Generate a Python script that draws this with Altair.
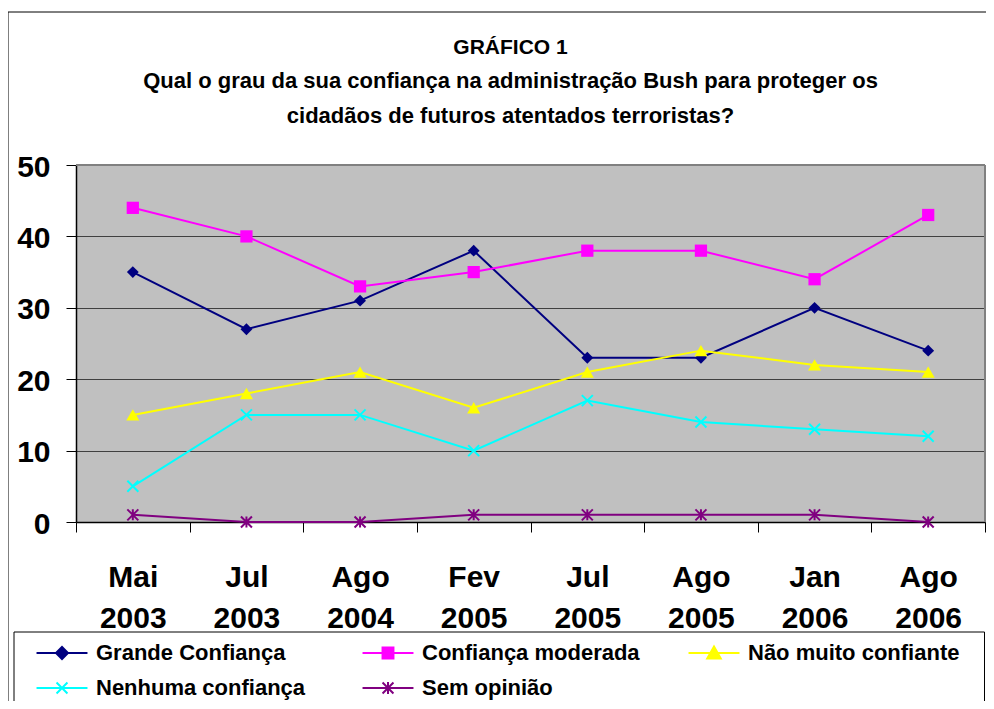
import altair as alt
import pandas as pd

# ---------------- data ----------------
categories = ["Mai 2003", "Jul 2003", "Ago 2004", "Fev 2005",
              "Jul 2005", "Ago 2005", "Jan 2006", "Ago 2006"]
series = ["Grande Confiança", "Confiança moderada", "Não muito confiante",
          "Nenhuma confiança", "Sem opinião"]
grande = [35, 27, 31, 38, 23, 23, 30, 24]
moderada = [44, 40, 33, 35, 38, 38, 34, 43]
nao_muito = [15, 18, 21, 16, 21, 24, 22, 21]
nenhuma = [5, 15, 15, 10, 17, 14, 13, 12]
sem_opiniao = [1, 0, 0, 1, 1, 1, 1, 0]
y_ticks = [0, 10, 20, 30, 40, 50]
title_text = "GRÁFICO 1"
subtitle_lines = ["Qual o grau da sua confiança na administração Bush para proteger os",
                  "cidadãos de futuros atentados terroristas?"]

# ---------------- styles ----------------
colors = ["#000080", "#FF00FF", "#FFFF00", "#00FFFF", "#800080"]
X_PATH = "M-1,-1L1,1M-1,1L1,-1"
STAR_PATH = "M-1,-1L1,1M-1,1L1,-1M0,-1L0,1"
point_shapes = ["diamond", "square", "triangle-up", X_PATH, STAR_PATH]
point_sizes = [140, 150, 170, 121, 121]
point_filled = [True, True, True, False, False]
legend_paths = [
    "M-1.96,0L1.96,0M-0.46,0L0,-0.46L0.46,0L0,0.46Z",
    "M-1.96,0L1.96,0M-0.42,-0.42L0.42,-0.42L0.42,0.42L-0.42,0.42Z",
    "M-1.96,0L1.96,0M0,-0.5L0.52,0.42L-0.52,0.42Z",
    "M-1.96,0L1.96,0M-0.42,-0.42L0.42,0.42M-0.42,0.42L0.42,-0.42",
    "M-1.96,0L1.96,0M-0.42,-0.42L0.42,0.42M-0.42,0.42L0.42,-0.42M0,-0.46L0,0.46",
]
FONT = "Liberation Sans"
W, H = 909, 357

values = [grande, moderada, nao_muito, nenhuma, sem_opiniao]
rows = []
for s, vals in zip(series, values):
    for c, v in zip(categories, vals):
        rows.append({"serie": s, "periodo": c, "valor": v})
df = pd.DataFrame(rows)

x_enc = alt.X(
    "periodo:N", sort=categories,
    scale=alt.Scale(type="band", domain=categories, paddingInner=0, paddingOuter=0),
    axis=alt.Axis(title=None, labelExpr="split(datum.label, ' ')", labelAngle=0,
                  labelFont=FONT, labelFontSize=30, labelFontWeight="bold",
                  labelColor="black", labelLineHeight=41, labelBaseline="top",
                  labelPadding=30, tickBand="extent", tickSize=10,
                  tickColor="black", domainColor="black", domainWidth=1.5,
                  grid=False),
)
y_enc = alt.Y(
    "valor:Q", scale=alt.Scale(domain=[0, 50], nice=False),
    axis=alt.Axis(title=None, values=y_ticks, labelFont=FONT, labelFontSize=30,
                  labelFontWeight="bold", labelColor="black", labelPadding=16,
                  labelOffset=2, tickSize=10, tickColor="black",
                  domainColor="black", domainWidth=1.5, grid=True,
                  gridColor="#404040", gridWidth=1),
)

base = alt.Chart(df)

frame = alt.Chart(alt.Data(values=[{}])).mark_rect(
    fillOpacity=0, stroke="black", strokeWidth=1
).encode(x=alt.value(-68), x2=alt.value(W + 30),
         y=alt.value(-153), y2=alt.value(H + 400))

legend_box = alt.Chart(alt.Data(values=[{}])).mark_rect(
    fillOpacity=0, stroke="black", strokeWidth=1
).encode(x=alt.value(-62), x2=alt.value(W - 0.5),
         y=alt.value(467), y2=alt.value(H + 400))

line_layers = []
point_layers = []
for s, col, shp, sz, fl in zip(series, colors, point_shapes, point_sizes, point_filled):
    sub = base.transform_filter(alt.datum.serie == s)
    line_layers.append(
        sub.mark_line(strokeWidth=2, color=col).encode(x=x_enc, y=y_enc)
    )
    point_layers.append(
        sub.mark_point(shape=shp, size=sz, filled=fl, strokeWidth=2,
                       opacity=1, color=col).encode(x=x_enc, y=y_enc)
    )

top_rule = alt.Chart(alt.Data(values=[{}])).mark_rule(
    color="#808080", strokeWidth=2
).encode(x=alt.value(0), x2=alt.value(W), y=alt.value(0))
right_rule = alt.Chart(alt.Data(values=[{}])).mark_rule(
    color="#808080", strokeWidth=2
).encode(x=alt.value(W), y=alt.value(0), y2=alt.value(H))

leg = alt.Legend(title=None, orient="none", legendX=-28, legendY=474,
                 direction="horizontal", columns=3, gridAlign="all",
                 columnPadding=44, rowPadding=10,
                 symbolSize=676, symbolStrokeWidth=2, symbolOpacity=1,
                 labelFont=FONT, labelFontSize=22, labelFontWeight="bold",
                 labelColor="black", labelOffset=20, labelLimit=400, padding=0)

# legend-only layer (no rows drawn): it just carries the legend
legend_layer = base.transform_filter("false").mark_point(
    filled=True, opacity=1, strokeWidth=2
).encode(
    x=x_enc, y=y_enc,
    fill=alt.Fill("serie:N", scale=alt.Scale(domain=series, range=colors), legend=leg),
    stroke=alt.Stroke("serie:N", scale=alt.Scale(domain=series, range=colors), legend=leg),
    shape=alt.Shape("serie:N", scale=alt.Scale(domain=series, range=legend_paths), legend=leg),
)

chart = alt.layer(
    frame, legend_box, *line_layers, *point_layers, top_rule, right_rule, legend_layer
).properties(
    width=W, height=H,
    padding={"left": 68, "top": 157, "right": 1, "bottom": 179},
    autosize=alt.AutoSizeParams(type="none"),
    title=alt.TitleParams(text=title_text, subtitle=subtitle_lines,
                          anchor="middle", frame="group", font=FONT,
                          fontSize=21, fontWeight="bold", color="black",
                          subtitleFont=FONT, subtitleFontSize=22,
                          subtitleFontWeight="bold", subtitleColor="black",
                          subtitleLineHeight=35, subtitlePadding=13,
                          dx=-20, dy=135, offset=20),
    background="white",
).configure_view(fill="#C0C0C0", stroke="transparent")

chart.save("out.html", embed_options={"renderer": "svg", "actions": False})
